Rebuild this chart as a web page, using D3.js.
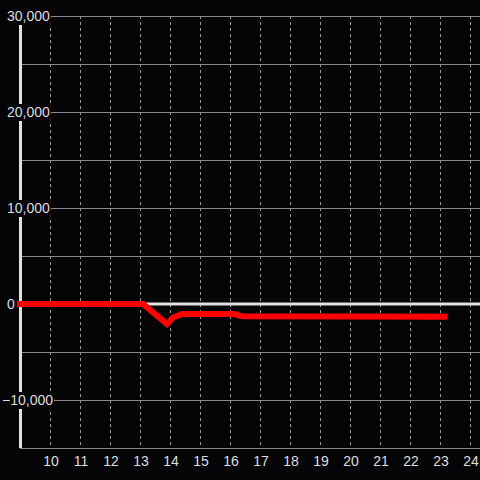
<!DOCTYPE html>
<html><head><meta charset="utf-8">
<script src="https://cdn.jsdelivr.net/npm/d3@7"></script>
<style>html,body{margin:0;padding:0;background:#050508;}svg{display:block;}</style>
</head><body>
<svg id="c" width="480" height="480"></svg>
<script>
const xValues = [9, 13.1, 13.9, 14.1, 14.4, 16.15, 16.4, 23.15];
const yValues = [0, 0, -2100, -1400, -1050, -1050, -1280, -1330];
const xTicks = [10, 11, 12, 13, 14, 15, 16, 17, 18, 19, 20, 21, 22, 23, 24];
const yLabelTicks = [-10000, 0, 10000, 20000, 30000];
const yGridTicks = [-15000, -10000, -5000, 0, 5000, 10000, 15000, 20000, 25000, 30000];

const svg = d3.select("#c");
const x = d3.scaleLinear().domain([9, 9 + 460/30]).range([20, 480]);
const y = d3.scaleLinear().domain([-15000, 30000]).range([448, 16]);

svg.append("rect").attr("width", 480).attr("height", 480).attr("fill", "#050508");

// vertical dashed grid
svg.append("g").selectAll("line").data(xTicks).join("line")
  .attr("x1", d => x(d) + 0.5).attr("x2", d => x(d) + 0.5)
  .attr("y1", y(30000)).attr("y2", y(-15000))
  .attr("stroke", "#9a9a9a").attr("stroke-width", 1).attr("stroke-dasharray", "3,3");

// horizontal grid
svg.append("g").selectAll("line").data(yGridTicks).join("line")
  .attr("x1", 20).attr("x2", 480)
  .attr("y1", d => Math.round(y(d)) + 0.5).attr("y2", d => Math.round(y(d)) + 0.5)
  .attr("stroke", "#8a8a8a").attr("stroke-width", 1);

// left axis
svg.append("line").attr("x1", 20.5).attr("x2", 20.5).attr("y1", y(30000)).attr("y2", y(-15000))
  .attr("stroke", "#e0e0e0").attr("stroke-width", 3);

// zero line
svg.append("line").attr("x1", 20).attr("x2", 480).attr("y1", y(0)).attr("y2", y(0))
  .attr("stroke", "#e0e0e0").attr("stroke-width", 3);

// red series
const line = d3.line().x((d, i) => x(xValues[i])).y(d => y(d));
svg.append("path").datum(yValues).attr("d", line)
  .attr("fill", "none").attr("stroke", "#ff0000").attr("stroke-width", 6)
  .attr("stroke-linecap", "square").attr("stroke-linejoin", "miter");

// y labels with background
const fmt = d3.format(",");
const yl = svg.append("g").attr("font-family", "Liberation Sans, Arial, sans-serif").attr("font-size", 14);
yLabelTicks.forEach(v => {
  const tx = v < 0 ? 2 : 7;
  const t = yl.append("text").attr("x", tx).attr("y", y(v) + 1).attr("dominant-baseline", "middle")
    .attr("fill", "#dddddd").text(fmt(v));
  const w = t.node().getComputedTextLength();
  yl.insert("rect", "text").attr("x", tx - 1).attr("y", y(v) - 8).attr("width", w + 2).attr("height", 17)
    .attr("fill", "#050508");
});

// x labels
svg.append("g").attr("font-family", "Liberation Sans, Arial, sans-serif").attr("font-size", 14)
  .selectAll("text").data(xTicks).join("text")
  .attr("x", d => x(d) + 1).attr("y", 466).attr("text-anchor", "middle")
  .attr("fill", "#dddddd").text(d => d);
</script>
</body></html>
